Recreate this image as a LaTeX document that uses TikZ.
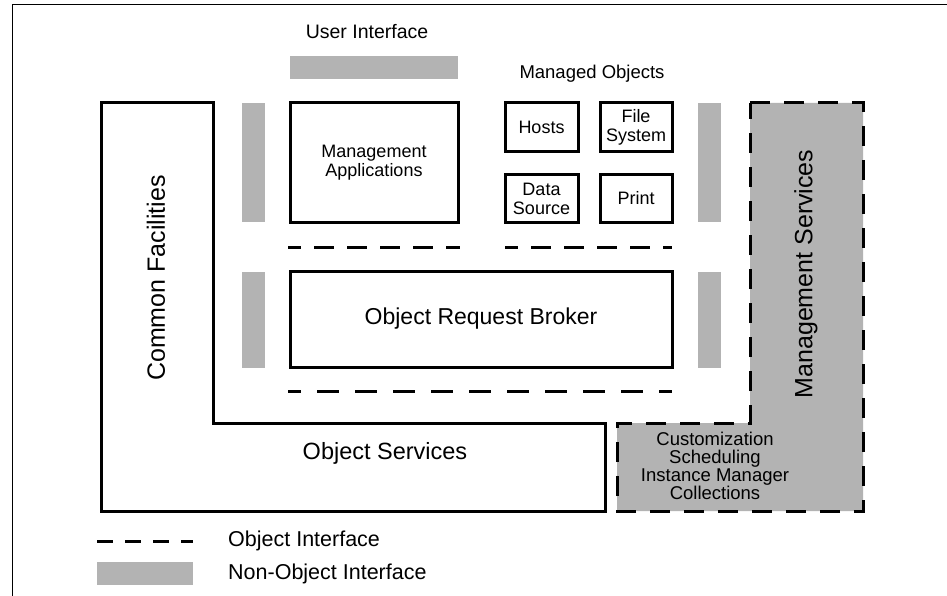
\documentclass[tikz,border=0pt]{standalone}
\usepackage{fontspec}
\setmainfont{Liberation Sans}
\definecolor{ifgray}{HTML}{B3B3B3}
\begin{document}
\begin{tikzpicture}[x=1pt,y=-1pt,
  box/.style={draw, line width=3pt, fill=white, inner sep=0pt, align=center,
    font=\fontsize{18}{19}\selectfont},
  bar/.style={fill=ifgray, inner sep=0pt},
  iface/.style={line width=3pt, dash pattern=on 20pt off 14pt},
  small/.style={font=\fontsize{18.5}{18}\selectfont, align=center, inner sep=0pt},
  big/.style={font=\fontsize{23.5}{24}\selectfont, inner sep=0pt},
  side/.style={font=\fontsize{25}{26}\selectfont, inner sep=0pt, rotate=90},
  legend/.style={font=\fontsize{21.5}{22}\selectfont, inner sep=0pt, anchor=west}]
\useasboundingbox (0,0) rectangle (947,596);

% outer frame (top and left edges)
\draw[line width=1pt] (12,596) -- (12,5) -- (947,5);

% Common Facilities / Object Services
\draw[line width=3pt, fill=white]
  (101,103) -- (213,103) -- (213,423) -- (605,423) -- (605,511) -- (101,511) -- cycle;
\node[side] (cf) at (156,278) {Common Facilities};
\node[big] (os) at (385,453) {Object Services};

% Management Services
\fill[ifgray] (750,103) -- (863,103) -- (863,511) -- (617,511) -- (617,423) -- (750,423) -- cycle;
\draw[iface]
  (750,103) -- (863,103) -- (863,511) -- (617,511) -- (617,423) -- (750,423) -- cycle;
\node[side] (ms) at (806,274) {Management Services};
\node[small] (cs) at (715,466) {Customization\\Scheduling\\Instance Manager\\Collections};

% user interface
\node[small, font=\fontsize{19.5}{20}\selectfont] (uil) at (367,32) {User Interface};
\node[bar, minimum width=168pt, minimum height=23pt] (ui) at (374,67.5) {};

% managed objects
\node[small] (mol) at (592,74) {Managed Objects};
\node[box, minimum width=168pt, minimum height=119pt] (ma) at (374,162.5) {Management\\Applications};
\node[box, minimum width=73pt, minimum height=49pt] (hosts) at (541.5,127.5) {Hosts};
\node[box, minimum width=72pt, minimum height=49pt] (fs) at (636,127.5) {File\\System};
\node[box, minimum width=73pt, minimum height=47pt] (ds) at (541.5,198.5) {Data\\Source};
\node[box, minimum width=72pt, minimum height=47pt] (pr) at (636,198.5) {Print};

% non-object interface bars
\node[bar, minimum width=23pt, minimum height=119pt] (lb1) at (253.5,162.5) {};
\node[bar, minimum width=23pt, minimum height=96pt] (lb2) at (253.5,320) {};
\node[bar, minimum width=23pt, minimum height=119pt] (rb1) at (709.5,162.5) {};
\node[bar, minimum width=23pt, minimum height=96pt] (rb2) at (709.5,320) {};

% object request broker
\node[box, minimum width=382pt, minimum height=96pt, font=\fontsize{23}{24}\selectfont] (orb) at (481,319) {Object Request Broker};

% object interfaces
\coordinate (d1a) at (288,247); \coordinate (d1b) at (460,247);
\coordinate (d2a) at (505,247); \coordinate (d2b) at (672,247);
\coordinate (d3a) at (288,391); \coordinate (d3b) at (672,391);
\draw[iface, dash pattern=on 20pt off 13pt, dash phase=7pt] (d1a) -- (d1b);
\draw[iface, dash pattern=on 20pt off 13pt, dash phase=7pt] (d2a) -- (d2b);
\draw[iface, dash pattern=on 22pt off 16pt, dash phase=9pt] (d3a) -- (d3b);

% legend
\coordinate (la) at (97,541); \coordinate (lb) at (193,541);
\draw[iface, dash pattern=on 16pt off 12pt] (la) -- (lb);
\node[legend] (oil) at (228,541) {Object Interface};
\node[bar, minimum width=96pt, minimum height=23pt] (lbar) at (145,573.5) {};
\node[legend] (noil) at (228,574) {Non-Object Interface};
\end{tikzpicture}
\end{document}
